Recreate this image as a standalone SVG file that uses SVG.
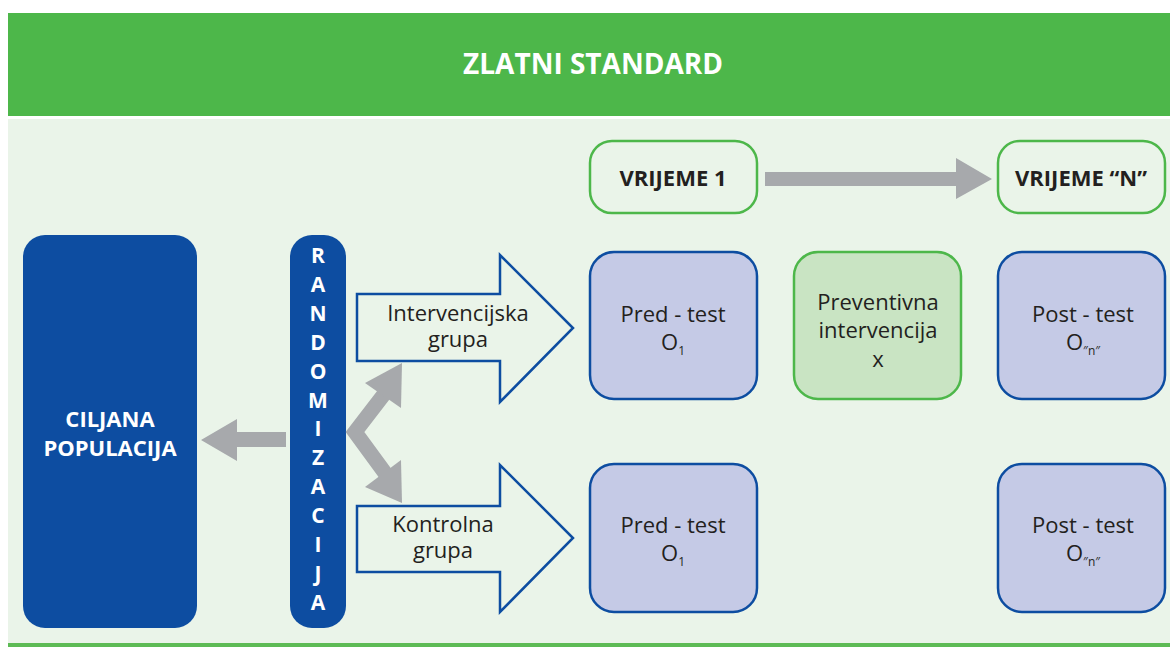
<svg xmlns="http://www.w3.org/2000/svg" width="1170" height="647" viewBox="0 0 1170 647">
<style>
text{font-family:"Open Sans","Liberation Sans",sans-serif;}
.t{font-size:22px;fill:#231F20;text-anchor:middle;}
.ta{font-size:22px;fill:#231F20;text-anchor:middle;}
.sub{font-size:12px;}
.wb{font-size:22px;font-weight:bold;fill:#FFFFFF;text-anchor:middle;}
.kb{font-size:22px;font-weight:bold;fill:#231F20;text-anchor:middle;}
.time{fill:#EAF4E9;stroke:#4DB74A;stroke-width:2.5;}
.blue{fill:#C5CAE6;stroke:#0D4DA1;stroke-width:2.5;}
.green{fill:#C9E4C3;stroke:#4DB74A;stroke-width:2.5;}
.big{fill:#EAF4E9;stroke:#0D4DA1;stroke-width:2.5;}
.gray{fill:#A7A9AC;}
</style>
<rect x="0" y="0" width="1170" height="647" fill="#FFFFFF"/>
<rect x="8" y="13" width="1162" height="103" fill="#4DB74A"/>
<text x="593" y="74" style="font-size:28px;font-weight:bold;fill:#FFFFFF;text-anchor:middle;">ZLATNI STANDARD</text>
<rect x="8" y="119" width="1162" height="524" fill="#EAF4E9"/>
<rect x="8" y="643" width="1162" height="4" fill="#5DBB55"/>

<g id="ciljana">
<rect x="23" y="235" width="174" height="393" rx="22" fill="#0D4DA1"/>
<text class="wb" x="110" y="427">CILJANA</text>
<text class="wb" x="110" y="456">POPULACIJA</text>
</g>

<g id="randomizacija">
<rect x="290" y="235" width="56" height="393" rx="22" fill="#0D4DA1"/>
<g class="wb" style="font-size:21px;">
<text x="318" y="263">R</text>
<text x="318" y="292">A</text>
<text x="318" y="321">N</text>
<text x="318" y="350">D</text>
<text x="318" y="379">O</text>
<text x="318" y="408">M</text>
<text x="318" y="436">I</text>
<text x="318" y="465">Z</text>
<text x="318" y="494">A</text>
<text x="318" y="523">C</text>
<text x="318" y="552">I</text>
<text x="318" y="581">J</text>
<text x="318" y="610">A</text>
</g>
</g>

<g id="connectors">
<polygon class="gray" points="286,432 237,432 237,419 201,440 237,461 237,447 286,447"/>
<polyline points="385,393 355,432 385,473" fill="none" stroke="#A7A9AC" stroke-width="15" stroke-miterlimit="4"/>
<polygon class="gray" points="402,363 365,383 401,408"/>
<polygon class="gray" points="402,503 365,487 401,460"/>
<polygon class="gray" points="765,172 956,172 956,158 992,179 956,199 956,186 765,186"/>
</g>

<g id="intervencijska">
<polygon class="big" points="357,294 500,294 500,255 573,328 500,402 500,361 357,361"/>
<text class="ta" x="458" y="321">Intervencijska</text>
<text class="ta" x="458" y="347">grupa</text>
</g>

<g id="kontrolna">
<polygon class="big" points="357,506 500,506 500,465 573,538 500,612 500,572 357,572"/>
<text class="ta" x="443" y="532">Kontrolna</text>
<text class="ta" x="443" y="558">grupa</text>
</g>

<g id="vrijeme1">
<rect class="time" x="590" y="141" width="167" height="72" rx="22"/>
<text class="kb" x="673" y="186">VRIJEME 1</text>
</g>

<g id="vrijemeN">
<rect class="time" x="998" y="141" width="167" height="72" rx="22"/>
<text class="kb" x="1081" y="186">VRIJEME “N”</text>
</g>

<g id="predtest1">
<rect class="blue" x="590" y="252" width="167" height="147" rx="24"/>
<text class="t" x="673" y="322">Pred - test</text>
<text class="t" x="673" y="350">O<tspan class="sub" dy="5">1</tspan></text>
</g>

<g id="preventivna">
<rect class="green" x="794" y="252" width="167" height="147" rx="24"/>
<text class="t" x="878" y="310">Preventivna</text>
<text class="t" x="878" y="338">intervencija</text>
<text class="t" x="878" y="367">x</text>
</g>

<g id="posttest1">
<rect class="blue" x="998" y="252" width="167" height="147" rx="24"/>
<text class="t" x="1083" y="322">Post - test</text>
<text class="t" x="1083" y="350">O<tspan class="sub" dy="5">″n″</tspan></text>
</g>

<g id="predtest2">
<rect class="blue" x="590" y="464" width="167" height="148" rx="24"/>
<text class="t" x="673" y="533">Pred - test</text>
<text class="t" x="673" y="561">O<tspan class="sub" dy="5">1</tspan></text>
</g>

<g id="posttest2">
<rect class="blue" x="998" y="464" width="167" height="148" rx="24"/>
<text class="t" x="1083" y="533">Post - test</text>
<text class="t" x="1083" y="561">O<tspan class="sub" dy="5">″n″</tspan></text>
</g>
</svg>
